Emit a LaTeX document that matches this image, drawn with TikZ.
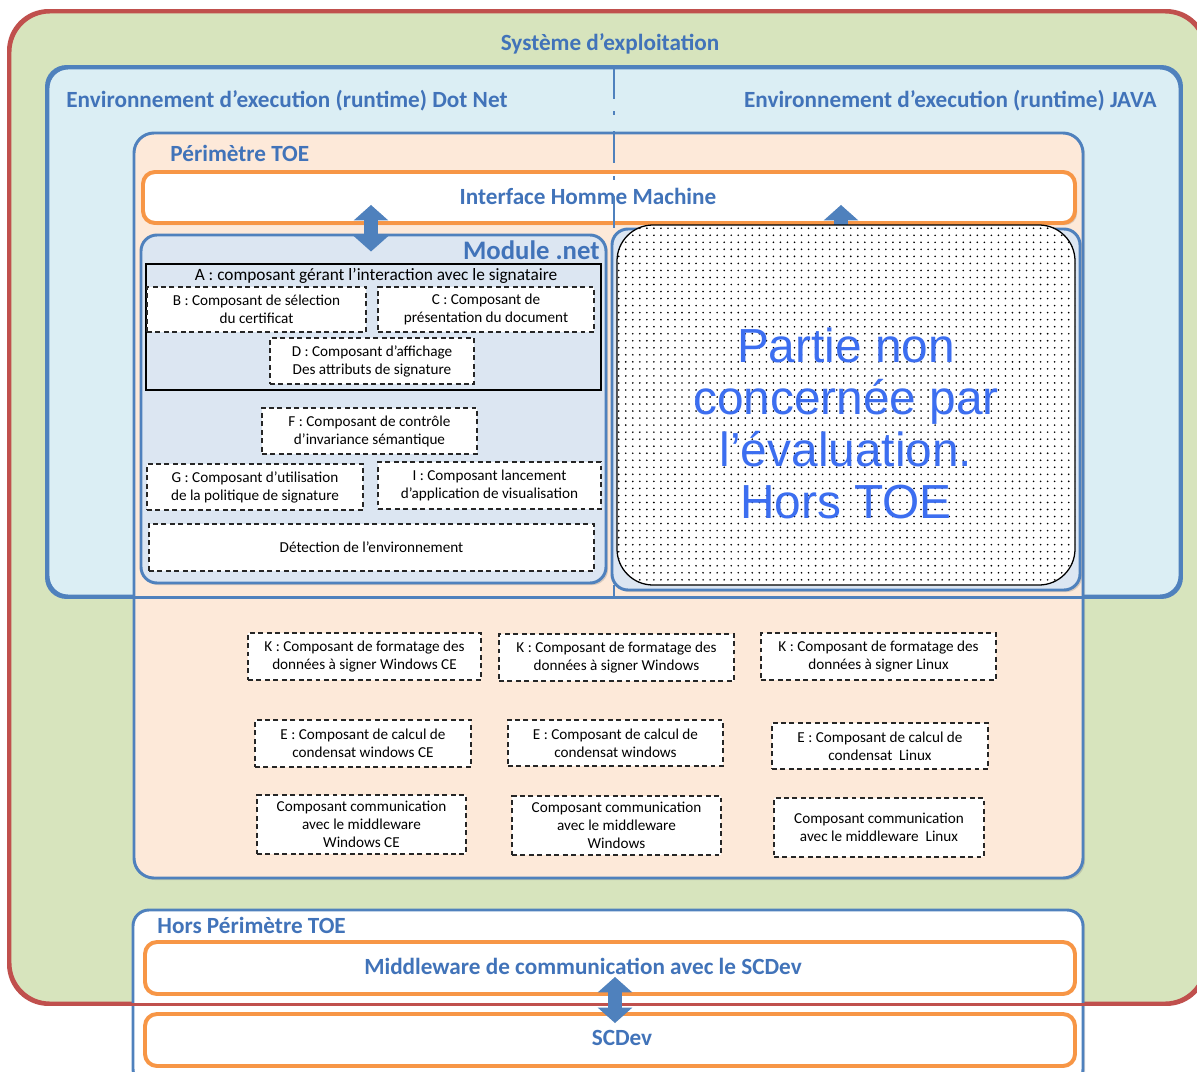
\documentclass[tikz,border=0pt]{standalone}
\usepackage{fontspec}
\setmainfont{Carlito}
\newfontfamily\arialfont{Liberation Sans}
\usepackage{tikz}
\usetikzlibrary{arrows.meta,patterns.meta,shadows}
\newlength\px
\setlength\px{0.025cm}
\definecolor{osgreen}{RGB}{215,228,189}
\definecolor{osred}{RGB}{192,80,77}
\definecolor{rtblue}{RGB}{219,238,244}
\definecolor{tblue}{RGB}{79,129,189}
\definecolor{ttext}{RGB}{65,115,185}
\definecolor{toepeach}{RGB}{253,233,217}
\definecolor{modblue}{RGB}{220,230,242}
\definecolor{orange1}{RGB}{247,150,70}
\definecolor{pblue}{RGB}{60,110,240}
\newcommand{\ttlfont}{\fontsize{16.5}{18}\selectfont\bfseries}
\newcommand{\compfont}{\fontsize{10.8}{12.8}\selectfont}

\begin{document}
\begin{tikzpicture}[x=0.025cm,y=-0.025cm
	,inner sep=0pt
	,semithick]
  \tikzstyle{bigbox}=[draw=tblue, line width=2.1pt, rounded corners=0.5cm]
  \tikzstyle{shade}=[drop shadow={shadow xshift=1.5pt,shadow yshift=-1.5pt,opacity=0.3}]
  \tikzstyle{orangebox}=[draw=orange1, line width=2.8pt, fill=white, rounded corners=0.3cm]
  \tikzstyle{comp}=[draw=black!85, dash pattern=on 3.5pt off 2.5pt, line width=0.9pt
  ,fill=white, align=center, font=\compfont]
  \tikzstyle{ttl}=[font=\ttlfont, text=ttext]
  \tikzstyle{bigarrow}=[line width=10pt, draw=tblue
  ,{Triangle[length=11pt,width=24pt]}-{Triangle[length=11pt,width=24pt]}]
  \useasboundingbox (0,0) rectangle (1197,1072);

  % systeme d'exploitation
  \node[draw=osred, line width=2.1pt, fill=osgreen, rounded corners=1cm
  ,minimum width=1195\px, minimum height=991\px] (os) at (607.5,507.5) {};
  \node[ttl] (ostitle) at (610,44) {Système d’exploitation};

  % runtimes
  \node[bigbox, fill=rtblue, minimum width=1132\px, minimum height=528\px] (rt) at (614,332) {};
  \node[ttl, anchor=west] (rtdotnet) at (66,101) {Environnement d’execution (runtime) Dot Net};
  \node[ttl, anchor=east] (rtjava) at (1157,101) {Environnement d’execution (runtime) JAVA};

  % perimetre TOE
  \node[bigbox, shade, fill=toepeach, minimum width=949\px, minimum height=745\px] (toe) at (608.5,505.5) {};
  \draw[draw=tblue, line width=2.1pt, rounded corners=0.5cm] (rt.north west) rectangle (rt.south east);
  \node[ttl, anchor=west] (toetitle) at (170,153) {Périmètre TOE};

  % IHM
  \node[orangebox, shade, minimum width=932\px, minimum height=51\px] (ihm) at (609,197.5) {};
  \node[ttl] (ihmtxt) at (588,196) {Interface Homme Machine};
  \coordinate (xsep) at (614,0);
  \draw[draw=tblue, line width=2.1pt, dash pattern=on 0.8cm off 0.32cm on 0.1cm off 0.4cm]
    (rt.north -| xsep) -- (rt.south -| xsep);

  % java (hors TOE) and module .net
  \node[bigbox, shade, fill=modblue, rounded corners=0.4cm
  ,minimum width=468\px, minimum height=361\px] (jmod) at (846,409.5) {};
  \node[bigbox, shade, fill=modblue, rounded corners=0.4cm
  ,minimum width=465\px, minimum height=348\px] (mod) at (373.5,409) {};
  \node[ttl, anchor=east, font=\fontsize{19}{21}\selectfont\bfseries] (modtitle) at (600,250) {Module .net};

  % composants du module
  \node[draw=black, line width=0.8pt, minimum width=455\px, minimum height=126\px] (a) at (373.5,327) {};
  \node[font=\fontsize{12.3}{14}\selectfont] (atxt) at (376,276) {A : composant gérant l’interaction avec le signataire};
  \node[comp, minimum width=219\px, minimum height=45\px] (b) at (256.5,309.5) {B : Composant de sélection\\du certificat};
  \node[comp, minimum width=216\px, minimum height=45\px] (c) at (486,309.5) {C : Composant de\\présentation du document};
  \node[comp, minimum width=204\px, minimum height=46\px] (d) at (372,361) {D : Composant d’affichage\\Des attributs de signature};
  \node[comp, minimum width=215\px, minimum height=46\px] (f) at (369.5,431) {F : Composant de contrôle\\d’invariance sémantique};
  \node[comp, minimum width=216\px, minimum height=46\px] (g) at (255,487) {G : Composant d’utilisation\\de la politique de signature};
  \node[comp, minimum width=223\px, minimum height=47\px] (i) at (489.5,485.5) {I : Composant lancement\\d’application de visualisation};
  \node[comp, minimum width=445\px, minimum height=47\px] (det) at (371.5,547.5) {Détection de l’environnement};

  % fleches IHM
  \coordinate (xa) at (371,0);
  \coordinate (xb) at (841,0);
  \draw[bigarrow, shorten <=-0.5cm, shorten >=-0.45cm] (ihm.south -| xa) -- (mod.north -| xa);
  \draw[line width=10pt, draw=tblue, {Triangle[length=11pt,width=24pt]}-
  ,shorten <=-0.5cm, shorten >=-0.5cm] (ihm.south -| xb) -- (jmod.north -| xb);

  % partie non concernee
  \node[draw=black, line width=0.9pt, fill=white, rounded corners=0.9cm
  ,postaction={pattern={Dots[distance=5pt,radius=0.65pt]}, pattern color=black}
  ,minimum width=458\px, minimum height=360\px] (hors) at (846,405) {};
  \node[align=center, text=pblue, font=\arialfont\fontsize{34}{37}\selectfont] (horstxt) at (846,423)
    {Partie non\\concernée par\\l’évaluation.\\Hors TOE};

  % composants par plateforme
  \node[comp, minimum width=233\px, minimum height=47\px] (k1) at (364.5,656.5) {K : Composant de formatage des\\données à signer Windows CE};
  \node[comp, minimum width=235\px, minimum height=47\px] (k2) at (616.5,657.5) {K : Composant de formatage des\\données à signer Windows};
  \node[comp, minimum width=235\px, minimum height=47\px] (k3) at (878.5,656.5) {K : Composant de formatage des\\données à signer Linux};
  \node[comp, minimum width=216\px, minimum height=47\px] (e1) at (363,743.5) {E : Composant de calcul de\\condensat windows CE};
  \node[comp, minimum width=215\px, minimum height=46\px] (e2) at (615.5,743) {E : Composant de calcul de\\condensat windows};
  \node[comp, minimum width=216\px, minimum height=46\px] (e3) at (880,746) {E : Composant de calcul de\\condensat \ Linux};
  \node[comp, minimum width=209\px, minimum height=59\px] (m1) at (361.5,824.5) {Composant communication\\avec le middleware\\Windows CE};
  \node[comp, minimum width=209\px, minimum height=59\px] (m2) at (616.5,825.5) {Composant communication\\avec le middleware\\Windows};
  \node[comp, minimum width=210\px, minimum height=59\px] (m3) at (879,827.5) {Composant communication\\avec le middleware \ Linux};

  % hors perimetre TOE
  \node[bigbox, shade, fill=white, rounded corners=0.4cm
  ,minimum width=950\px, minimum height=175\px] (horsbox) at (608,997.5) {};
  \node[ttl, anchor=west] (horstitle) at (157,925) {Hors Périmètre TOE};
  \node[orangebox, minimum width=930\px, minimum height=52\px] (mw) at (610,968) {};
  \node[ttl] (mwtxt) at (583,966) {Middleware de communication avec le SCDev};
  \node[orangebox, minimum width=930\px, minimum height=52\px] (scdev) at (610,1040) {};
  \node[ttl] (scdevtxt) at (622,1038) {SCDev};
  \draw[draw=osred, line width=2.1pt, rounded corners=1cm] (os.north west) rectangle (os.south east);
  \coordinate (xc) at (615,0);
  \draw[bigarrow, shorten <=-0.475cm, shorten >=-0.275cm] (mw.south -| xc) -- (scdev.north -| xc);
\end{tikzpicture}
\end{document}
